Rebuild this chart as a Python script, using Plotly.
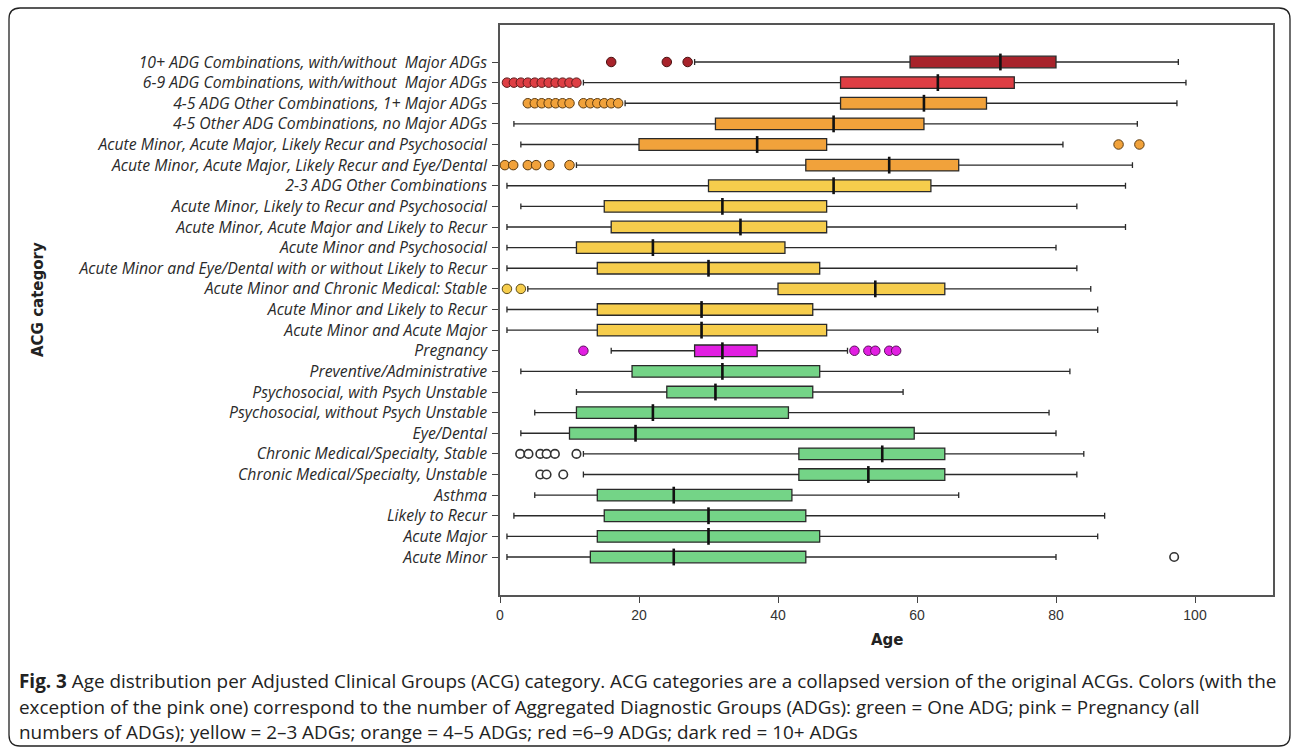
import plotly.graph_objects as go

# ---------------- data (top row first) ----------------
categories = [
    "10+ ADG Combinations, with/without  Major ADGs",
    "6-9 ADG Combinations, with/without  Major ADGs",
    "4-5 ADG Other Combinations, 1+ Major ADGs",
    "4-5 Other ADG Combinations, no Major ADGs",
    "Acute Minor, Acute Major, Likely Recur and Psychosocial",
    "Acute Minor, Acute Major, Likely Recur and Eye/Dental",
    "2-3 ADG Other Combinations",
    "Acute Minor, Likely to Recur and Psychosocial",
    "Acute Minor, Acute Major and Likely to Recur",
    "Acute Minor and Psychosocial",
    "Acute Minor and Eye/Dental with or without Likely to Recur",
    "Acute Minor and Chronic Medical: Stable",
    "Acute Minor and Likely to Recur",
    "Acute Minor and Acute Major",
    "Pregnancy",
    "Preventive/Administrative",
    "Psychosocial, with Psych Unstable",
    "Psychosocial, without Psych Unstable",
    "Eye/Dental",
    "Chronic Medical/Specialty, Stable",
    "Chronic Medical/Specialty, Unstable",
    "Asthma",
    "Likely to Recur",
    "Acute Major",
    "Acute Minor",
]
groups = ["darkred", "red", "orange", "orange", "orange", "orange",
          "yellow", "yellow", "yellow", "yellow", "yellow", "yellow", "yellow", "yellow",
          "pink",
          "green", "green", "green", "green", "green", "green", "green", "green", "green", "green"]

lower_whisker = [28, 12, 18, 2, 3, 11, 1, 3, 1, 1, 1, 4, 1, 1, 16, 3, 11, 5, 3, 12, 12, 5, 2, 1, 1]
q1_values     = [59, 49, 49, 31, 20, 44, 30, 15, 16, 11, 14, 40, 14, 14, 28, 19, 24, 11, 10, 43, 43, 14, 15, 14, 13]
median_values = [72, 63, 61, 48, 37, 56, 48, 32, 34.6, 22, 30, 54, 29, 29, 32, 32, 31, 22, 19.5, 55, 53, 25, 30, 30, 25]
q3_values     = [80, 74, 70, 61, 47, 66, 62, 47, 47, 41, 46, 64, 45, 47, 37, 46, 45, 41.5, 59.6, 64, 64, 42, 44, 46, 44]
upper_whisker = [97.6, 98.7, 97.4, 91.7, 81, 91, 90, 83, 90, 80, 83, 85, 86, 86, 50, 82, 58, 79, 80, 84, 83, 66, 87, 86, 80]

outliers = [
    [16, 24, 27],
    [1, 2, 3, 4, 5, 6, 7, 8, 9, 10, 11],
    [4, 5, 6, 7, 8, 9, 10, 12, 13, 14, 15, 16, 17],
    [],
    [89, 92],
    [0.7, 1.9, 4, 5.2, 7.1, 10],
    [], [], [], [], [],
    [1, 3],
    [], [],
    [12, 51, 53, 54, 56, 57],
    [], [], [], [],
    [2.9, 4.1, 5.8, 6.7, 7.9, 11],
    [5.8, 6.7, 9.1],
    [], [], [],
    [97],
]

x_ticks = [0, 20, 40, 60, 80, 100]

# ---------------- styling ----------------
fill_colors = {
    "darkred": "#A8232B",
    "red": "#DE3E44",
    "orange": "#F1A23B",
    "yellow": "#F6CD4C",
    "pink": "#E21FE2",
    "green": "#74D487",
}
outline_colors = {
    "darkred": "#4a1010",
    "red": "#5a1a1a",
    "orange": "#5a3a10",
    "yellow": "#5a4a18",
    "pink": "#5a105a",
    "green": "#24502c",
}

W, H = 1292, 753
L, R, T, B = 500, 1273, 25, 595  # plot area in pixels


def px2x(px):
    return (px - L) / (R - L)


def py2y(py):
    return (B - py) / (B - T)


fig = go.Figure()

for i, cat in enumerate(categories):
    g = groups[i]
    fig.add_trace(go.Box(
        y=[cat], q1=[q1_values[i]], median=[median_values[i]], q3=[q3_values[i]],
        lowerfence=[lower_whisker[i]], upperfence=[upper_whisker[i]],
        orientation="h", fillcolor=fill_colors[g],
        line=dict(color="#2a2a2a", width=1.3),
        width=0.56, whiskerwidth=0.5, boxpoints=False,
        showlegend=False, hoverinfo="skip",
    ))

# thick median marks
fig.add_trace(go.Scatter(
    x=median_values, y=categories, mode="markers",
    marker=dict(symbol="line-ns", size=12, line=dict(width=2.6, color="#111111")),
    showlegend=False, hoverinfo="skip",
))

# outliers
for i, cat in enumerate(categories):
    if not outliers[i]:
        continue
    g = groups[i]
    if g == "green":
        mk = dict(size=8.5, color="white", line=dict(color="#333333", width=1.6))
    else:
        mk = dict(size=9.5, color=fill_colors[g], line=dict(color=outline_colors[g], width=1))
    fig.add_trace(go.Scatter(
        x=outliers[i], y=[cat] * len(outliers[i]), mode="markers",
        marker=mk, showlegend=False, hoverinfo="skip",
    ))

n = len(categories)
row_px = (557 - 62) / (n - 1)
y_low = -(B - 557) / row_px
y_high = (n - 1) + (62 - T) / row_px

fig.update_layout(
    width=W, height=H,
    margin=dict(l=L, r=W - R, t=T, b=H - B),
    paper_bgcolor="white", plot_bgcolor="white",
    xaxis=dict(
        range=[0, (R - L) / 6.95], tickvals=x_ticks, ticks="outside", ticklen=6,
        tickcolor="#444", showgrid=False, zeroline=False,
        showline=True, linecolor="#555", linewidth=1.6, mirror=True,
        tickfont=dict(family="Liberation Sans, Arial, sans-serif", size=14, color="#333"),
    ),
    yaxis=dict(
        type="category", categoryorder="array", categoryarray=categories[::-1],
        range=[y_low, y_high], ticks="outside", ticklen=6, tickcolor="#444",
        showgrid=False, zeroline=False,
        showline=True, linecolor="#555", linewidth=1.6, mirror=True,
        tickfont=dict(family="Open Sans, sans-serif", size=15.8, color="#2a2a2a", style="italic"),
        ticklabelstandoff=2,
    ),
)

# axis titles
fig.add_annotation(text="<b>Age</b>", x=px2x(887), y=py2y(640), xref="paper", yref="paper",
                   showarrow=False, font=dict(family="DejaVu Sans, Liberation Sans, sans-serif", size=15, color="#222"),
                   xanchor="center", yanchor="middle")
fig.add_annotation(text="<b>ACG category</b>", x=px2x(38), y=py2y(300), xref="paper", yref="paper",
                   showarrow=False, textangle=-90,
                   font=dict(family="DejaVu Sans, Liberation Sans, sans-serif", size=15, color="#222"),
                   xanchor="center", yanchor="middle")

# caption
caption_lines = [
    "<b>Fig. 3</b> Age distribution per Adjusted Clinical Groups (ACG) category. ACG categories are a collapsed version of the original ACGs. Colors (with the",
    "exception of the pink one) correspond to the number of Aggregated Diagnostic Groups (ADGs): green = One ADG; pink = Pregnancy (all",
    "numbers of ADGs); yellow = 2–3 ADGs; orange = 4–5 ADGs; red =6–9 ADGs; dark red = 10+ ADGs",
]
for k, line in enumerate(caption_lines):
    fig.add_annotation(text=line, x=px2x(17), y=py2y(681 + 25.5 * k), xref="paper", yref="paper",
                       showarrow=False, xanchor="left", yanchor="middle", align="left",
                       font=dict(family="Open Sans, sans-serif", size=18.9, color="#222"))

# rounded outer frame
x0, x1, y0, y1, r = 9, 1290, 8, 746, 11
path = (f"M {px2x(x0 + r)},{py2y(y0)} L {px2x(x1 - r)},{py2y(y0)} "
        f"Q {px2x(x1)},{py2y(y0)} {px2x(x1)},{py2y(y0 + r)} "
        f"L {px2x(x1)},{py2y(y1 - r)} Q {px2x(x1)},{py2y(y1)} {px2x(x1 - r)},{py2y(y1)} "
        f"L {px2x(x0 + r)},{py2y(y1)} Q {px2x(x0)},{py2y(y1)} {px2x(x0)},{py2y(y1 - r)} "
        f"L {px2x(x0)},{py2y(y0 + r)} Q {px2x(x0)},{py2y(y0)} {px2x(x0 + r)},{py2y(y0)} Z")
fig.add_shape(type="path", path=path, xref="paper", yref="paper",
              line=dict(color="#222", width=1.3), layer="above")

fig.write_html("out.html", config={"displayModeBar": False},
               post_script="document.body.style.margin='0';document.body.style.overflow='hidden';")
